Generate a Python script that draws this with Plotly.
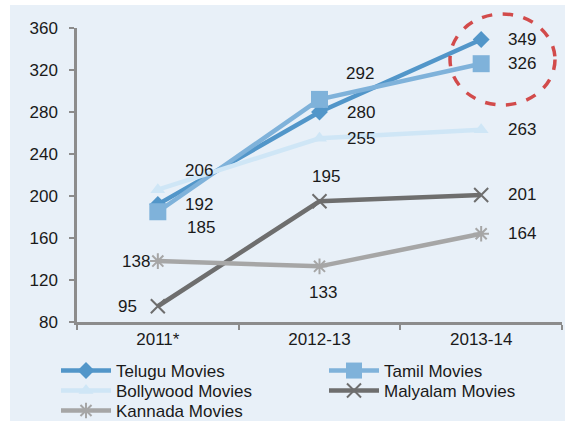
import plotly.graph_objects as go

categories = ["2011*", "2012-13", "2013-14"]
telugu = [192, 280, 349]
tamil = [185, 292, 326]
bollywood = [206, 255, 263]
malyalam = [95, 195, 201]
kannada = [138, 133, 164]
y_ticks = [80, 120, 160, 200, 240, 280, 320, 360]

W, H = 565, 421
L, R, T, B = 77, 3, 28, 99
PW, PH = W - L - R, H - T - B

def px(x):
    return (x - L) / PW

def py(y):
    return (H - B - y) / PH

series = [
    ("Telugu Movies", telugu, "#5296C9", "diamond", 13, "legend"),
    ("Tamil Movies", tamil, "#7FB2DA", "square", 17, "legend2"),
    ("Bollywood Movies", bollywood, "#CFE6F6", "triangle-up", 13, "legend3"),
    ("Malyalam Movies", malyalam, "#6E6E6E", "x-thin-open", 14, "legend4"),
    ("Kannada Movies", kannada, "#A6A6A6", "asterisk-open", 13, "legend5"),
]
# legend anchor positions (pixels): left x, center y
legend_pos = {
    "legend": (56, 371), "legend2": (324, 371),
    "legend3": (56, 391), "legend4": (324, 391),
    "legend5": (56, 411),
}

fig = go.Figure()
for name, vals, color, sym, size, leg in series:
    open_sym = sym.endswith("open")
    fig.add_trace(go.Scatter(
        x=categories, y=vals, name=name, mode="lines+markers",
        line=dict(color=color, width=4.5),
        marker=dict(symbol=sym, size=size, color=color,
                    line=dict(color=color, width=2 if open_sym else 0)),
        legend=leg, cliponaxis=False, hoverinfo="skip",
    ))

# label offsets (xshift, yshift) per series per category
offsets = {
    "Telugu Movies": [(41, 0), (41, 0), (41, 0)],
    "Tamil Movies": [(43, -16), (40, 26), (41, 0)],
    "Bollywood Movies": [(41, 19), (41, 0), (41, 0)],
    "Malyalam Movies": [(-30, 0), (6, 25), (41, 0)],
    "Kannada Movies": [(-22, 0), (3, -26), (41, 0)],
}
for name, vals, *_ in series:
    for i, (c, v) in enumerate(zip(categories, vals)):
        dx, dy = offsets[name][i]
        fig.add_annotation(x=c, y=v, text=str(v), showarrow=False,
                           xshift=dx, yshift=dy,
                           font=dict(family="Liberation Sans, Arial", size=17, color="#1A1A1A"))

# white page border on top and left of the light-blue panel
fig.add_shape(type="rect", xref="paper", yref="paper",
              x0=px(-10), x1=px(10), y0=py(H + 10), y1=py(-10),
              fillcolor="white", line=dict(width=0), layer="below")
fig.add_shape(type="rect", xref="paper", yref="paper",
              x0=px(-10), x1=px(W + 10), y0=py(5), y1=py(-10),
              fillcolor="white", line=dict(width=0), layer="below")
# red dashed circle
fig.add_shape(type="circle", xref="paper", yref="paper",
              x0=px(450), x1=px(555), y0=py(105), y1=py(14),
              line=dict(color="#D24B4B", width=3.5, dash="dash"))

axis_common = dict(showline=True, linecolor="#8C8C8C", linewidth=2.5,
                   ticks="outside", ticklen=5, tickwidth=2, tickcolor="#8C8C8C",
                   showgrid=False, zeroline=False,
                   tickfont=dict(family="Liberation Sans, Arial", size=17, color="#1A1A1A"))

fig.update_xaxes(**axis_common, tickson="boundaries", type="category", range=[-0.5, 2.5])
fig.update_yaxes(**axis_common, range=[80, 360], tickvals=y_ticks, ticklabelstandoff=8)

legend_font = dict(family="Liberation Sans, Arial", size=17, color="#1A1A1A")
legends = {}
for key, (lx, ly) in legend_pos.items():
    legends[key] = dict(x=px(lx), y=py(ly), xanchor="left", yanchor="middle",
                        bgcolor="rgba(0,0,0,0)", font=legend_font,
                        tracegroupgap=0, itemwidth=50)

fig.update_layout(
    width=W, height=H,
    margin=dict(l=L, r=R, t=T, b=B, autoexpand=False),
    paper_bgcolor="#E8F0F8", plot_bgcolor="rgba(0,0,0,0)",
    showlegend=True, hovermode=False,
    **legends,
)

fig.write_html("out.html", config={"displayModeBar": False},
               post_script="document.body.style.margin='0';document.body.style.overflow='hidden';"
                           "document.body.style.background='#E8F0F8';")
